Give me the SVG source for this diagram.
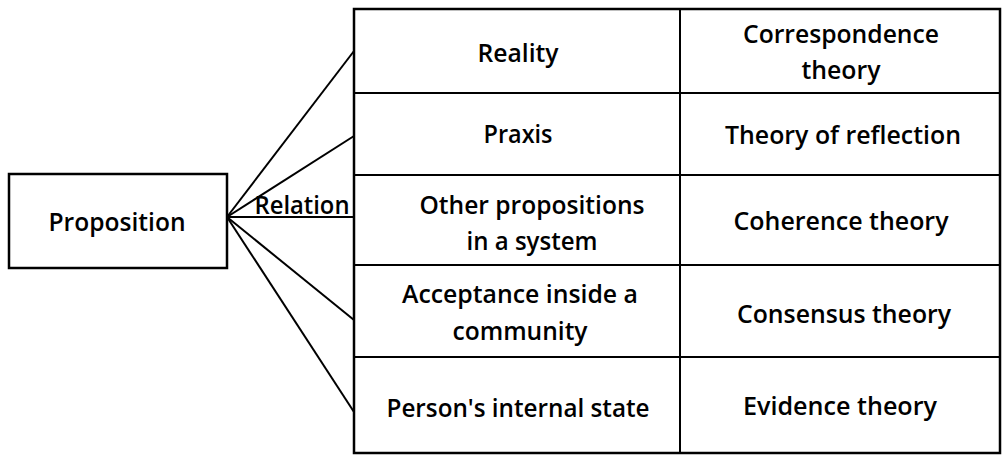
<svg xmlns="http://www.w3.org/2000/svg" width="1003" height="455" viewBox="0 0 1003 455">
<style>
.box{fill:#fff;stroke:#000;stroke-width:2.5}
.ln{stroke:#000;stroke-width:2;fill:none}
text{font-family:"Open Sans","Noto Sans",sans-serif;font-size:26px;fill:#000;text-anchor:middle;font-weight:600}
</style>
<rect width="1003" height="455" fill="#fff"/>
<g id="connectors">
<line class="ln" x1="227" y1="217" x2="354" y2="51"/>
<line class="ln" x1="227" y1="217" x2="354" y2="136"/>
<line class="ln" x1="227" y1="217" x2="354" y2="217"/>
<line class="ln" x1="227" y1="217" x2="354" y2="320"/>
<line class="ln" x1="227" y1="217" x2="354" y2="412"/>
<text x="302" y="214" textLength="95" lengthAdjust="spacingAndGlyphs">Relation</text>
</g>
<g id="proposition">
<rect class="box" x="9" y="174" width="218" height="94"/>
<text x="117" y="231" textLength="137" lengthAdjust="spacingAndGlyphs">Proposition</text>
</g>
<g id="table">
<rect class="box" x="354" y="9" width="646" height="444"/>
<line class="ln" x1="680" y1="9" x2="680" y2="453" stroke-width="2.5"/>
<line class="ln" x1="354" y1="93" x2="1000" y2="93" stroke-width="2.5"/>
<line class="ln" x1="354" y1="175" x2="1000" y2="175" stroke-width="2.5"/>
<line class="ln" x1="354" y1="265" x2="1000" y2="265" stroke-width="2.5"/>
<line class="ln" x1="354" y1="357" x2="1000" y2="357" stroke-width="2.5"/>
</g>
<g id="row-reality">
<text x="518" y="62" textLength="81" lengthAdjust="spacingAndGlyphs">Reality</text>
<text x="841" y="43" textLength="196" lengthAdjust="spacingAndGlyphs">Correspondence</text>
<text x="841" y="79" textLength="79" lengthAdjust="spacingAndGlyphs">theory</text>
</g>
<g id="row-praxis">
<text x="518" y="143" textLength="69" lengthAdjust="spacingAndGlyphs">Praxis</text>
<text x="843" y="144" textLength="236" lengthAdjust="spacingAndGlyphs">Theory of reflection</text>
</g>
<g id="row-other">
<text x="532" y="214" textLength="225" lengthAdjust="spacingAndGlyphs">Other propositions</text>
<text x="532" y="250" textLength="131" lengthAdjust="spacingAndGlyphs">in a system</text>
<text x="841" y="230" textLength="215" lengthAdjust="spacingAndGlyphs">Coherence theory</text>
</g>
<g id="row-acceptance">
<text x="520" y="303" textLength="236" lengthAdjust="spacingAndGlyphs">Acceptance inside a</text>
<text x="520" y="340" textLength="135" lengthAdjust="spacingAndGlyphs">community</text>
<text x="844" y="323" textLength="214" lengthAdjust="spacingAndGlyphs">Consensus theory</text>
</g>
<g id="row-person">
<text x="518" y="417" textLength="263" lengthAdjust="spacingAndGlyphs">Person's internal state</text>
<text x="840" y="415" textLength="194" lengthAdjust="spacingAndGlyphs">Evidence theory</text>
</g>
</svg>
